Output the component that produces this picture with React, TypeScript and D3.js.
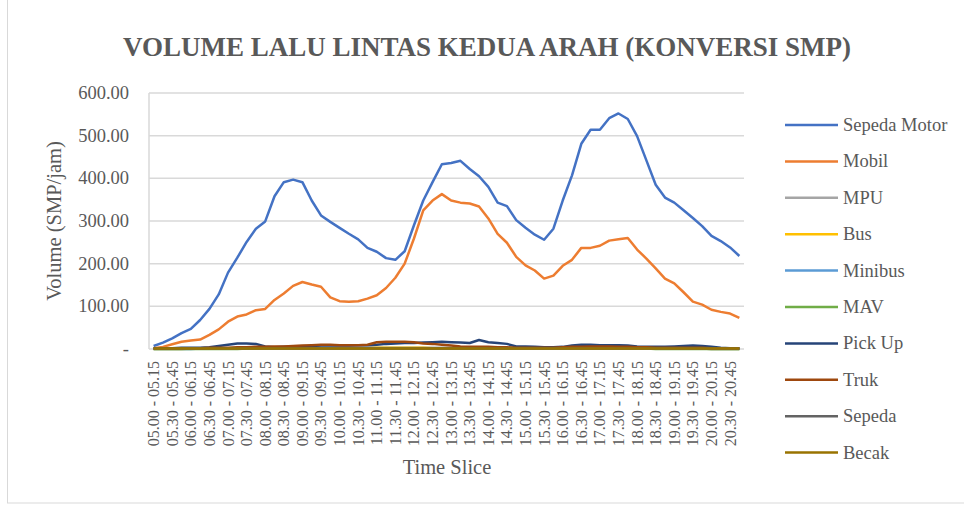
import React from 'react'
import * as d3 from 'd3'

// time slices, 15 minutes each, 05.00 to 21.00
const slots: string[] = []
for (let m = 5 * 60; m < 21 * 60; m += 15) {
	const f = (t: number) => `${String(Math.floor(t / 60)).padStart(2, '0')}.${String(t % 60).padStart(2, '0')}`
	slots.push(`${f(m)} - ${f(m + 15)}`)
}

const sepedaMotor = [
	7, 15, 25, 37, 47, 68, 94, 128, 179, 214, 251, 282, 299, 358, 391, 397, 391, 348, 313, 298, 284, 270,
	257, 237, 228, 213, 209, 229, 290, 348, 391, 433, 436, 441, 422, 405, 380, 343, 335, 302, 284, 268,
	256, 282, 348, 407, 481, 514, 514, 541, 552, 539, 499, 442, 385, 355, 343, 325, 307, 288, 265, 253, 238, 218,
]
const mobil = [
	2, 5, 11, 17, 20, 22, 33, 46, 64, 76, 81, 91, 94, 115, 130, 148, 157, 151, 146, 121, 112, 111,
	112, 118, 126, 143, 167, 200, 259, 325, 348, 363, 348, 343, 341, 334, 306, 270, 249, 216, 196, 184,
	165, 172, 195, 209, 237, 237, 242, 254, 257, 260, 233, 212, 189, 165, 154, 133, 111, 104, 92, 87, 83, 73,
]
const mpu = [
	1, 1, 1, 1, 1, 1, 2, 2, 2, 2, 2, 2, 2, 2, 2, 3, 3, 3, 3, 3, 3, 3,
	3, 3, 3, 3, 3, 3, 3, 3, 3, 3, 3, 3, 3, 3, 3, 2, 2, 2, 2, 2,
	2, 2, 2, 2, 2, 2, 2, 2, 2, 2, 2, 2, 2, 2, 1, 1, 1, 1, 1, 1, 1, 1,
]
const bus = [
	0, 0, 0, 0, 1, 1, 1, 1, 1, 1, 1, 1, 1, 1, 1, 1, 2, 2, 2, 2, 2, 2,
	2, 2, 3, 3, 3, 3, 3, 3, 2, 2, 2, 2, 2, 2, 2, 1, 1, 1, 1, 1,
	1, 1, 1, 1, 1, 1, 1, 1, 1, 1, 1, 1, 1, 1, 1, 1, 1, 1, 0, 0, 0, 0,
]
const minibus = [
	0, 0, 0, 0, 0, 1, 1, 1, 1, 1, 1, 1, 1, 1, 1, 1, 1, 1, 1, 1, 1, 1,
	1, 1, 1, 1, 1, 1, 1, 1, 1, 1, 1, 1, 1, 1, 1, 1, 1, 1, 1, 1,
	1, 1, 1, 1, 1, 1, 1, 1, 1, 1, 1, 1, 1, 1, 1, 1, 1, 1, 0, 0, 0, 0,
]
const mav = [
	0, 0, 0, 0, 0, 0, 0, 0, 0, 0, 1, 1, 1, 1, 1, 1, 1, 1, 1, 1, 1, 1,
	1, 1, 1, 1, 1, 1, 1, 1, 1, 1, 1, 1, 1, 1, 1, 1, 1, 1, 1, 1,
	1, 1, 1, 1, 1, 1, 1, 1, 1, 1, 1, 1, 0, 0, 0, 0, 0, 0, 0, 0, 0, 0,
]
const pickUp = [
	2, 2, 2, 3, 3, 3, 4, 7, 10, 13, 13, 12, 6, 4, 5, 5, 6, 7, 8, 8, 8, 8,
	9, 9, 10, 12, 13, 14, 14, 15, 16, 17, 16, 15, 14, 21, 16, 14, 12, 6, 6, 5,
	4, 4, 5, 8, 10, 10, 9, 9, 9, 8, 6, 5, 5, 5, 6, 7, 8, 7, 5, 3, 2, 2,
]
const truk = [
	1, 1, 2, 2, 2, 2, 3, 3, 3, 4, 4, 5, 5, 6, 6, 7, 8, 9, 10, 10, 9, 9,
	9, 10, 16, 17, 17, 17, 16, 13, 12, 10, 8, 6, 5, 5, 5, 4, 4, 3, 3, 3,
	3, 3, 4, 5, 5, 6, 6, 6, 5, 5, 4, 4, 3, 3, 3, 3, 3, 3, 2, 2, 2, 2,
]
const sepeda = [
	1, 1, 1, 1, 1, 1, 1, 1, 1, 1, 1, 1, 1, 1, 1, 1, 1, 1, 1, 1, 1, 1,
	1, 1, 1, 1, 1, 1, 1, 1, 1, 1, 1, 1, 1, 1, 1, 1, 1, 1, 1, 1,
	1, 1, 1, 1, 1, 1, 1, 1, 1, 1, 1, 1, 1, 1, 1, 1, 1, 1, 1, 1, 1, 1,
]
const becak = [
	1, 1, 1, 1, 1, 1, 1, 1, 1, 1, 1, 1, 1, 1, 1, 1, 1, 1, 1, 1, 1, 1,
	1, 1, 1, 1, 1, 1, 1, 1, 1, 1, 1, 1, 1, 1, 1, 1, 1, 1, 1, 1,
	1, 1, 1, 1, 1, 1, 1, 1, 1, 1, 1, 1, 1, 1, 1, 1, 1, 1, 1, 1, 1, 1,
]

const seriesNames = ['Sepeda Motor', 'Mobil', 'MPU', 'Bus', 'Minibus', 'MAV', 'Pick Up', 'Truk', 'Sepeda', 'Becak']
const seriesValues = [sepedaMotor, mobil, mpu, bus, minibus, mav, pickUp, truk, sepeda, becak]
const colors = ['#4472C4', '#ED7D31', '#A5A5A5', '#FFC000', '#5B9BD5', '#70AD47', '#264478', '#9E480E', '#636363', '#997300']
const yTicks = [0, 100, 200, 300, 400, 500, 600]

const FONT = '"Liberation Serif", "Times New Roman", serif'
const GREY = '#595959'

export default function App() {
	const left = 149
	const right = 744
	const top = 93
	const bottom = 349

	const x = d3.scaleBand<string>().domain(slots).range([left, right]).padding(0)
	const cx = (s: string) => (x(s) as number) + x.bandwidth() / 2
	const y = d3.scaleLinear().domain([0, 600]).range([bottom, top])

	const line = d3
		.line<number>()
		.x((_, i) => cx(slots[i]))
		.y((d) => y(d))

	return (
		<svg width={964} height={509} style={{ position: 'absolute', left: 0, top: 0, background: '#fff' }} fontFamily={FONT}>
			<rect x={7.5} y={-2} width={960} height={505} fill="#fff" stroke="#d9d9d9" />
			<text x={487} y={56} textAnchor="middle" fontSize={27} fontWeight="bold" fill={GREY}>
				VOLUME LALU LINTAS KEDUA ARAH (KONVERSI SMP)
			</text>

			{yTicks.map((t) => (
				<g key={t}>
					{t > 0 && <line x1={left} x2={right} y1={y(t)} y2={y(t)} stroke="#d9d9d9" strokeWidth={1.5} />}
					<text x={129} y={y(t) + 6} textAnchor="end" fontSize={18.5} fill={GREY}>
						{t === 0 ? '-' : t.toFixed(2)}
					</text>
				</g>
			))}
			<line x1={left} x2={left} y1={top} y2={bottom} stroke="#d9d9d9" strokeWidth={1.5} />
			<line x1={left} x2={right} y1={bottom} y2={bottom} stroke="#d9d9d9" strokeWidth={1.5} />

			<text transform={`translate(61, ${(top + bottom) / 2}) rotate(-90)`} textAnchor="middle" fontSize={20.5} fill={GREY}>
				Volume (SMP/jam)
			</text>

			{slots.map((s, i) =>
				i % 2 === 0 ? (
					<text key={s} transform={`translate(${cx(s) + 5.5}, 361) rotate(-90)`} textAnchor="end" fontSize={16} fill={GREY}>
						{s}
					</text>
				) : null
			)}
			<text x={447} y={474} textAnchor="middle" fontSize={20.5} fill={GREY}>
				Time Slice
			</text>

			{seriesValues.map((vals, k) => (
				<path key={seriesNames[k]} d={line(vals) as string} fill="none" stroke={colors[k]} strokeWidth={2.5} strokeLinejoin="round" />
			))}

			{seriesNames.map((name, k) => (
				<g key={name} transform={`translate(0, ${125 + k * 36.4})`}>
					<line x1={785} x2={838} y1={0} y2={0} stroke={colors[k]} strokeWidth={2.5} />
					<text x={843} y={6} fontSize={18.5} fill={GREY}>
						{name}
					</text>
				</g>
			))}
		</svg>
	)
}
